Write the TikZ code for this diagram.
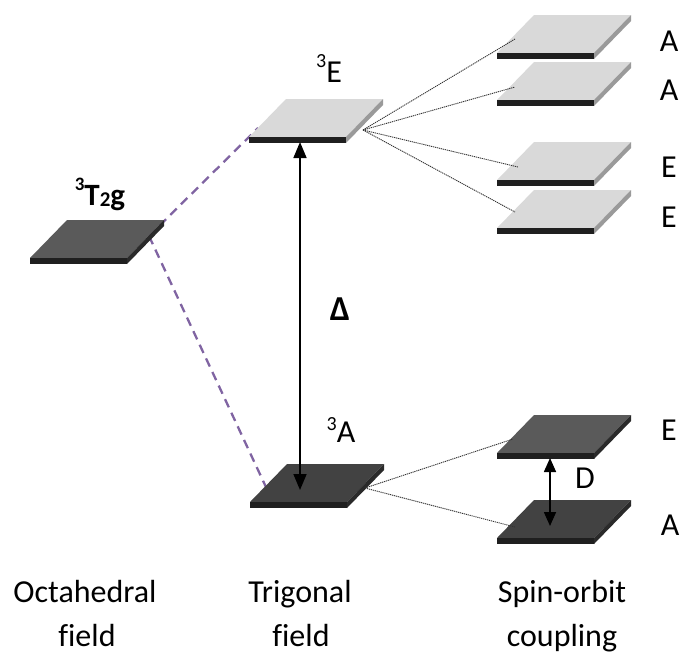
\documentclass[tikz,border=0pt]{standalone}
\usepackage{fontspec}
\setmainfont{Carlito}[Ligatures=NoCommon]
\usetikzlibrary{arrows.meta,calc}
\definecolor{plight}{HTML}{D9D9D9}
\definecolor{psidelight}{HTML}{9A9A9A}
\definecolor{pmid}{HTML}{5A5A5A}
\definecolor{pdark}{HTML}{424242}
\definecolor{pside}{HTML}{2A2A2A}
\definecolor{lilac}{HTML}{8064A2}
\newcommand\slab[5]{% name, x, y, top colour, side colour
  \coordinate (#1) at (#2,#3);
  \fill[#4] (#1) -- ++(97,0) -- ++(37,-38) -- ++(-97,0) -- cycle;
  \fill[#5] ($(#1)+(97,6)$) -- ++(37,-38) -- ++(0,-6) -- ++(-37,38) -- cycle;
  \fill[black!88] (#1) rectangle ++(97,6);
}
\tikzset{
  lbl/.style={font=\fontsize{32}{40}\selectfont, inner sep=0pt, anchor=base},
  fan/.style={draw=black!80, line width=0.9pt, dash pattern=on 1.2pt off 0.8pt},
  purpledash/.style={draw=lilac, line width=2.3pt, dash pattern=on 9pt off 6pt},
  gap/.style={draw=black, line width=1.6pt, {Triangle[length=16pt,width=13pt]}-{Triangle[length=16pt,width=13pt]}},
  gapsmall/.style={draw=black, line width=1.6pt, {Triangle[length=14pt,width=12pt]}-{Triangle[length=14pt,width=12pt]}},
}
\begin{document}
\begin{tikzpicture}[x=1pt,y=-1pt]
\useasboundingbox (0,0) rectangle (684,656);
% purple correlation lines (under the slabs)
\coordinate (octout) at (149,236);
\coordinate (Ein) at (258,128);
\coordinate (Ain) at (272,500);
\draw[purpledash] (octout) -- (Ein);
\draw[purpledash] (octout) -- (Ain);
% slabs
\slab{oct}{30}{258}{pmid}{pside}
\slab{E3}{249}{137}{plight}{psidelight}
\slab{A3}{250}{502}{pdark}{pside}
\slab{r1}{497}{53}{plight}{psidelight}
\slab{r2}{497}{100}{plight}{psidelight}
\slab{r3}{497}{180}{plight}{psidelight}
\slab{r4}{497}{228}{plight}{psidelight}
\slab{r5}{497}{453}{pmid}{pside}
\slab{r6}{497}{538}{pdark}{pside}
% fan lines
\coordinate (Efan) at (363,130);
\coordinate (r1in) at (515,39);
\coordinate (r2in) at (515,87);
\coordinate (r3in) at (518,167);
\coordinate (r4in) at (515,212);
\draw[fan] (Efan) -- (r1in);
\draw[fan] (Efan) -- (r2in);
\draw[fan] (Efan) -- (r3in);
\draw[fan] (Efan) -- (r4in);
\coordinate (Afan) at (365,488);
\coordinate (r5in) at (513,439);
\coordinate (r6in) at (515,527);
\draw[fan] (Afan) -- (r5in);
\draw[fan] (Afan) -- (r6in);
% gap arrows
\coordinate (dtop) at (300,142);
\coordinate (dbot) at (300,490);
\draw[gap] (dtop) -- (dbot);
\coordinate (Dtop) at (550,458);
\coordinate (Dbot) at (550,526);
\draw[gapsmall] (Dtop) -- (Dbot);
% labels
\node[lbl, font=\fontsize{31}{36}\selectfont\bfseries] (tT) at (100,205) {\raisebox{15pt}{\fontsize{19}{20}\selectfont 3}T\raisebox{-1pt}{\fontsize{21}{22}\selectfont 2}g};
\node[lbl] (tE) at (329,82) {\raisebox{15pt}{\fontsize{20}{20}\selectfont 3}E};
\node[lbl] (tA) at (341,442) {\raisebox{12pt}{\fontsize{20}{20}\selectfont 3}A};
\node[lbl, font=\fontsize{35}{40}\selectfont\bfseries] (tDelta) at (340,320) {Δ};
\node[lbl] (tD) at (585,488) {D};
\node[lbl] (l1) at (669,51) {A};
\node[lbl] (l2) at (669,100) {A};
\node[lbl] (l3) at (669,177) {E};
\node[lbl] (l4) at (669,227) {E};
\node[lbl] (l5) at (669,440) {E};
\node[lbl] (l6) at (670,535) {A};
\node[lbl] (b1a) at (85,602) {Octahedral};
\node[lbl] (b1b) at (87,646) {field};
\node[lbl] (b2a) at (300,602) {Trigonal};
\node[lbl] (b2b) at (301,646) {field};
\node[lbl] (b3a) at (562,602) {Spin-orbit};
\node[lbl] (b3b) at (562,646) {coupling};
\end{tikzpicture}
\end{document}
